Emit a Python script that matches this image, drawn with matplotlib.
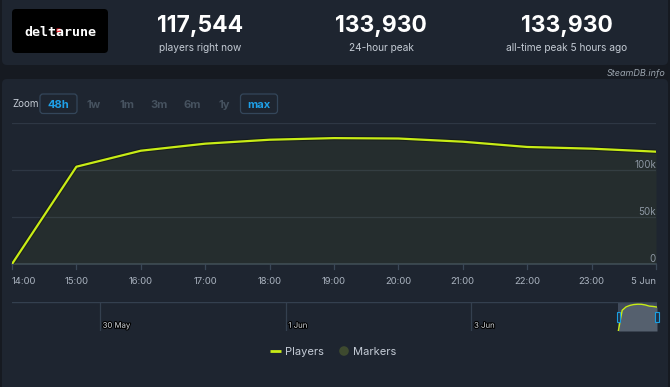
import matplotlib
matplotlib.use('Agg')
import matplotlib.pyplot as plt
import matplotlib.patheffects as pe
from matplotlib.patches import FancyBboxPatch, Rectangle, Circle

W, H = 670, 387

BG = '#161a21'
PANEL = '#1e2530'
LIME = '#c8ec16'
GRID = '#2e3744'
AXIS = '#3a4757'
TXT = '#aab3bf'

# data
hours = [0, 1, 2, 3, 4, 5, 6, 7, 8, 9, 10]
hour_labels = ['14:00', '15:00', '16:00', '17:00', '18:00', '19:00',
               '20:00', '21:00', '22:00', '23:00', '5 Jun']
players = [0, 103500, 120500, 128000, 132200, 133930, 133500,
           130100, 124500, 122700, 119500]
y_ticks = [0, 50000, 100000]
y_labels = ['0', '50k', '100k']

stat_values = ['117,544', '133,930', '133,930']
stat_labels = ['players right now', '24-hour peak', 'all-time peak 5 hours ago']
zoom_buttons = ['48h', '1w', '1m', '3m', '6m', '1y', 'max']
nav_days = [-134, -86, -38]
nav_labels = ['30 May', '1 Jun', '3 Jun']

plt.rcParams['font.family'] = ['Inter', 'DejaVu Sans']


def px_rect(x0, y0, x1, y1):
    # pixel box (top-left origin) -> figure fraction
    return [x0 / W, 1 - y1 / H, (x1 - x0) / W, (y1 - y0) / H]


def label(x, y, s, size, **kw):
    # y = visual centre of the capitals, in pixels
    bg.text(x, y + size * 100 / 72 * 0.727 / 2, s, fontsize=size, va='baseline', **kw)


fig = plt.figure(figsize=(W / 100, H / 100), dpi=100)
fig.patch.set_facecolor(BG)

bg = fig.add_axes([0, 0, 1, 1])
bg.set_xlim(0, W)
bg.set_ylim(H, 0)
bg.axis('off')

# panels
bg.add_patch(FancyBboxPatch((2, -6), 666, 71, boxstyle='round,pad=0,rounding_size=5',
                            fc=PANEL, ec='none'))
bg.add_patch(FancyBboxPatch((2, 79), 666, 320, boxstyle='round,pad=0,rounding_size=5',
                            fc=PANEL, ec='none'))

# logo
bg.add_patch(FancyBboxPatch((12, 9), 96, 44, boxstyle='round,pad=0,rounding_size=4',
                            fc='black', ec='none'))
label(60, 31, 'deltarune', 9.5, color='white', fontweight='bold',
      family='DejaVu Sans Mono', ha='center')
bg.plot([58], [29.5], marker='s', ms=2.2, color='#e8202a', mec='none')

# header stats
for cx, v, lab in zip([200, 381, 567], stat_values, stat_labels):
    label(cx, 24, v, 16.5, color='white', fontweight='bold', ha='center')
    label(cx, 47, lab, 7.3, color='#c3cad3', ha='center')

label(665, 72.5, 'SteamDB.info', 6.5, color='#9aa3ad', style='italic', ha='right')

# zoom buttons
label(12, 103.5, 'Zoom', 7, color='#c3cad3', ha='left')
btn_x = [58.5, 94, 127, 159, 192, 224, 259]
for bx, b in zip(btn_x, zoom_buttons):
    active = b in ('48h', 'max')
    if active:
        bw = 37
        bg.add_patch(FancyBboxPatch((bx - bw / 2, 94), bw, 19.5,
                                    boxstyle='round,pad=0,rounding_size=3',
                                    fc='none', ec='#34465a', lw=0.9))
    label(bx, 103.5, b, 8, color='#1ea0e8' if active else '#46525f',
          fontweight='bold', ha='center')

# main chart
ax = fig.add_axes(px_rect(12, 123, 656, 264))
ax.set_facecolor('none')
ax.set_xlim(0, 10)
ax.set_ylim(0, 150000)
for s in ax.spines.values():
    s.set_visible(False)
ax.set_xticks([])
ax.set_yticks([])
for g in [50000, 100000, 150000]:
    ax.axhline(g, color=GRID, lw=0.9, zorder=1)
ax.axhline(0, color=AXIS, lw=1.2, zorder=1, clip_on=False)
ax.fill_between(hours, players, color=LIME, alpha=0.045, lw=0, zorder=2)
ax.plot(hours, players, color='#10140c', lw=3.2, alpha=0.5, zorder=3)
ax.plot(hours, players, color=LIME, lw=1.6, zorder=4, solid_joinstyle='round')

for t, lab in zip(y_ticks, y_labels):
    ax.annotate(lab, (1, t), xycoords=('axes fraction', 'data'),
                xytext=(0, 1.2), textcoords='offset points',
                ha='right', va='baseline', color='#8d97a3', fontsize=7)

for i, (h, lab) in enumerate(zip(hours, hour_labels)):
    ax.plot([h, h], [0, -5500], color=AXIS, lw=0.9, clip_on=False)
    ha = 'left' if i == 0 else ('right' if i == len(hours) - 1 else 'center')
    ax.annotate(lab, (h, 0), xycoords='data', xytext=(0, -14.6),
                textcoords='offset points', ha=ha, va='baseline',
                color=TXT, fontsize=6.8)

# navigator
nav = fig.add_axes(px_rect(12, 302, 657, 331))
nav.set_facecolor('none')
nav.set_xlim(-156.7, 10)
nav.set_ylim(0, 145000)
nav.axis('off')
nav.axhline(145000, color='#34404f', lw=1)
for d, lab in zip(nav_days, nav_labels):
    nav.axvline(d, color='#34404f', lw=0.9)
    nav.annotate(lab, (d, 0), xytext=(2, 2.3), textcoords='offset points',
                 ha='left', va='baseline', color='#d8dde3', fontsize=5.6,
                 path_effects=[pe.withStroke(linewidth=1.6, foreground='black')])
nav.add_patch(Rectangle((0, 0), 10, 145000, fc='#404a5a', ec='none'))
nav.fill_between(hours, players, color='#55606e', lw=0)
nav.plot(hours, players, color=LIME, lw=1)
for hx in [0, 10]:
    nav.add_patch(Rectangle((hx - 0.45, 45000), 0.9, 50000, fc='#223247',
                            ec='#1a9fe0', lw=0.8, clip_on=False, zorder=5))

# legend
bg.plot([270, 281], [351, 351], color=LIME, lw=2, solid_capstyle='butt')
label(285, 351, 'Players', 8, color='#c5ccd6', ha='left')
bg.add_patch(Circle((344, 351), 4.8, fc='#3e4a2f', ec='none'))
label(353, 351, 'Markers', 8, color='#c5ccd6', ha='left')

fig.savefig('out.png', dpi=100, facecolor=BG)
